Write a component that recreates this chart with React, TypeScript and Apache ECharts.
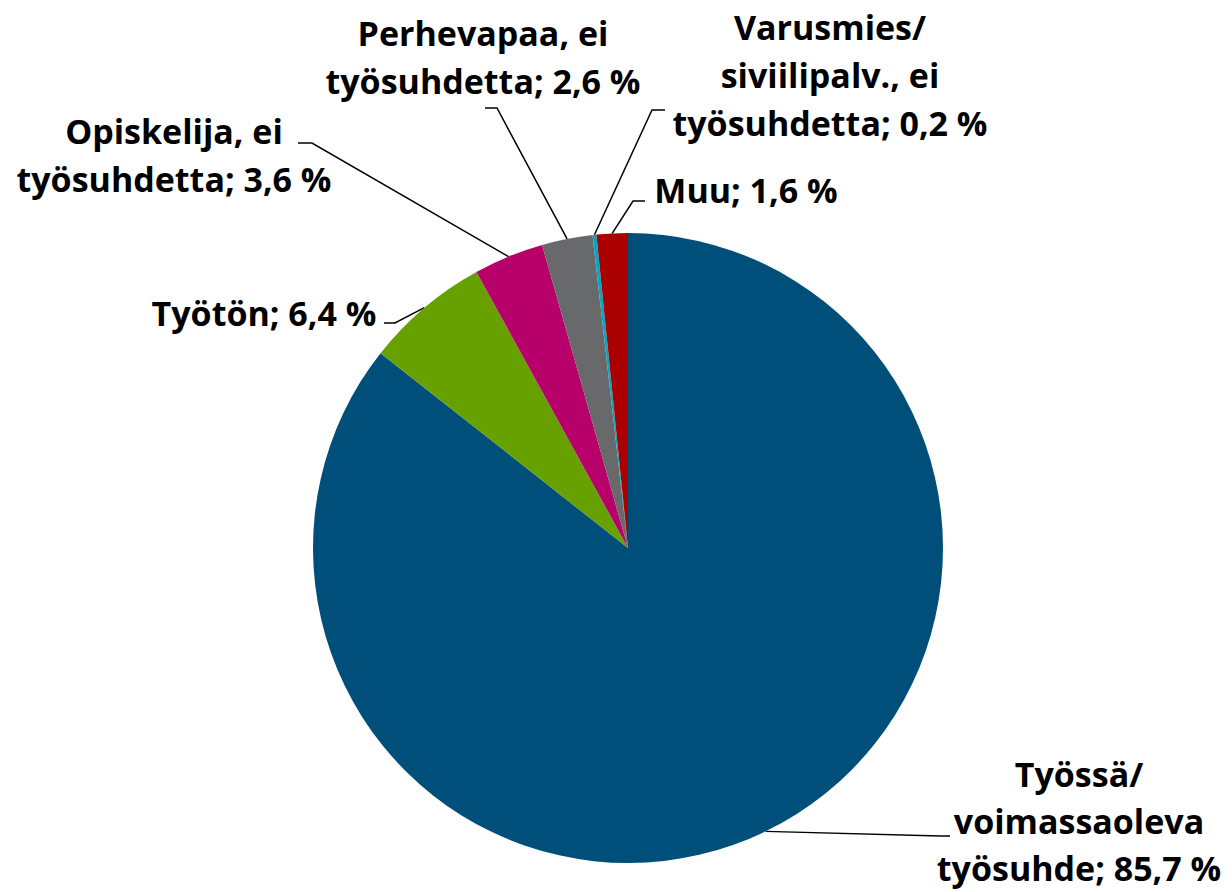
import React, { useEffect, useRef } from "react";
import * as echarts from "echarts";

const categories = [
  "Työssä/ voimassaoleva työsuhde",
  "Työtön",
  "Opiskelija, ei työsuhdetta",
  "Perhevapaa, ei työsuhdetta",
  "Varusmies/ siviilipalv., ei työsuhdetta",
  "Muu",
];
const labelTexts = [
  "Työssä/\nvoimassaoleva\ntyösuhde",
  "Työtön",
  "Opiskelija, ei\ntyösuhdetta",
  "Perhevapaa, ei\ntyösuhdetta",
  "Varusmies/\nsiviilipalv., ei\ntyösuhdetta",
  "Muu",
];
const values = [85.7, 6.4, 3.6, 2.6, 0.2, 1.6];
const colors = ["#004F7A", "#66A100", "#B8006A", "#68696B", "#0AA5C4", "#AA0000"];

// label layout (block centres) and guide-line elbow/end points
const labelPos: number[][] = [
  [1079, 821],
  [264, 313],
  [174, 155],
  [483, 57],
  [830, 75],
  [746, 190],
];
const lineHeights = [47, 48, 48, 48, 48, 48];
const lineTail: number[][][] = [
  [[940, 836], [950, 836]],
  [[395, 323], [384, 323]],
  [[312, 143], [298, 143]],
  [[497, 108], [485, 108]],
  [[652, 110], [665, 110]],
  [[633, 201], [645, 201]],
];

const CX = 628;
const CY = 548;
const R = 315;

export default function App() {
  const ref = useRef<HTMLDivElement>(null);
  useEffect(() => {
    if (!ref.current) return;
    const chart = echarts.init(ref.current, undefined, { renderer: "svg" });
    const total = values.reduce((a, b) => a + b, 0);
    const startPts = (() => {
      let acc = 0;
      return values.map((v) => {
        const mid = ((acc + v / 2) / total) * Math.PI * 2;
        acc += v;
        return [CX + R * Math.sin(mid), CY - R * Math.cos(mid)];
      });
    })();
    chart.setOption({
      animation: false,
      backgroundColor: "#ffffff",
      series: [
        {
          type: "pie",
          center: [CX, CY],
          radius: R,
          startAngle: 90,
          clockwise: true,
          avoidLabelOverlap: false,
          data: categories.map((name, i) => ({
            name,
            value: values[i],
            itemStyle: { color: colors[i] },
            label: { lineHeight: lineHeights[i] },
          })),
          itemStyle: { borderWidth: 0 },
          label: {
            show: true,
            position: "outside",
            formatter: (p: any) =>
              `${labelTexts[p.dataIndex]}; ${String(p.value).replace(".", ",")} %`,
            fontFamily: "Open Sans",
            fontWeight: "bold",
            fontSize: 34,
            lineHeight: 48,
            color: "#000000",
            align: "center",
          },
          labelLine: {
            show: true,
            lineStyle: { color: "#000000", width: 1.5 },
          },
          labelLayout: (params: any) => {
            const i = params.dataIndex;
            const p0 = startPts[i];
            return {
              x: labelPos[i][0],
              y: labelPos[i][1],
              align: "center",
              verticalAlign: "middle",
              labelLinePoints: [p0, lineTail[i][0], lineTail[i][1]],
            };
          },
          emphasis: { disabled: true },
        },
      ],
    });
    return () => chart.dispose();
  }, []);
  return (
    <div
      ref={ref}
      style={{ position: "fixed", left: 0, top: 0, width: 1232, height: 892 }}
    />
  );
}
